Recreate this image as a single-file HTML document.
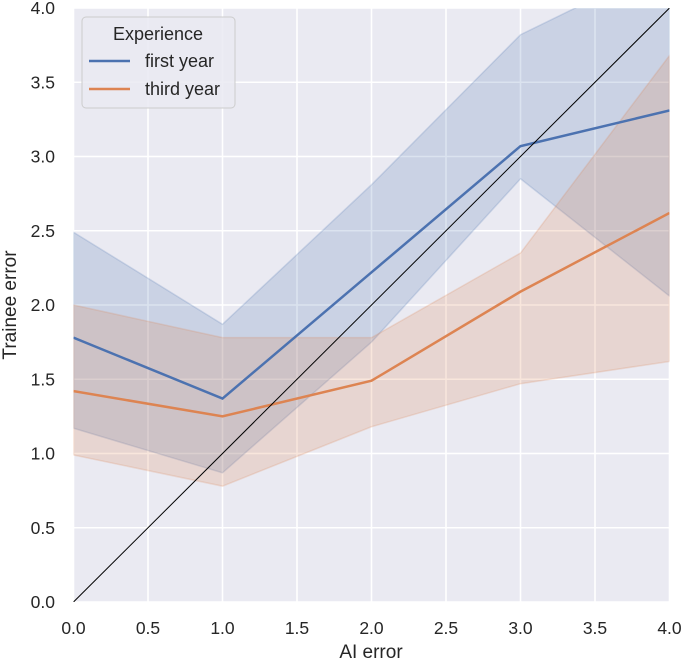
<!DOCTYPE html>
<html><head><meta charset="utf-8"><style>
body{margin:0;background:#fff;}
svg{display:block;font-family:"Liberation Sans",sans-serif;}
</style></head><body>
<svg id="chart" width="685" height="662">
<defs><clipPath id="clip"><rect x="73.5" y="8" width="596" height="594"/></clipPath></defs>
<rect x="73.5" y="8" width="596" height="594" fill="#eaeaf2"/>
<g id="grid"></g>
<g id="marks" clip-path="url(#clip)"></g>
<g id="ticks"></g>
<text x="371" y="658" text-anchor="middle" font-size="19" fill="#262626">AI error</text>
<text transform="translate(16,305) rotate(-90)" text-anchor="middle" font-size="19" fill="#262626">Trainee error</text>
<g>
<rect x="82" y="17" width="153" height="91" rx="4" fill="#eaeaf2" fill-opacity="0.85" stroke="#cccccc"/>
<text x="158" y="40" text-anchor="middle" font-size="18" fill="#262626">Experience</text>
<line x1="89" y1="61" x2="130" y2="61" stroke="#4c72b0" stroke-width="2.5"/>
<text x="145" y="67" font-size="18" fill="#262626">first year</text>
<line x1="89" y1="89" x2="130" y2="89" stroke="#dd8452" stroke-width="2.5"/>
<text x="145" y="95" font-size="18" fill="#262626">third year</text>
</g>
</svg>
<script>
const xs = [0, 1, 2, 3, 4];
const firstMean = [1.78, 1.37, 2.22, 3.07, 3.31];
const firstLo = [1.17, 0.87, 1.75, 2.85, 2.06];
const firstHi = [2.49, 1.87, 2.81, 3.82, 4.31];
const thirdMean = [1.42, 1.25, 1.49, 2.09, 2.62];
const thirdLo = [0.99, 0.78, 1.18, 1.47, 1.62];
const thirdHi = [2.00, 1.78, 1.78, 2.35, 3.68];
const tickVals = [0, 0.5, 1, 1.5, 2, 2.5, 3, 3.5, 4];
const tickLabels = ["0.0","0.5","1.0","1.5","2.0","2.5","3.0","3.5","4.0"];

const X = v => 73.5 + v * 149;
const Y = v => 602 - v * 148.5;
const NS = "http://www.w3.org/2000/svg";
const grid = document.getElementById('grid');
const marks = document.getElementById('marks');
const ticks = document.getElementById('ticks');
function mk(tag, attrs, parent){const e=document.createElementNS(NS,tag);for(const k in attrs)e.setAttribute(k,attrs[k]);parent.appendChild(e);return e;}

tickVals.forEach((t,i)=>{
  const gx = mk('line',{x1:X(t),x2:X(t),y1:8,y2:602,stroke:'#fff','stroke-width':1.6},grid);
  
  
  const gy = mk('line',{x1:73.5,x2:669.5,y1:Y(t),y2:Y(t),stroke:'#fff','stroke-width':1.6},grid);
  
  
  const tx = mk('text',{x:X(t),y:634,'text-anchor':'middle','font-size':17.5,fill:'#262626'},ticks);
  tx.textContent = tickLabels[i];
  
  
  const ty = mk('text',{x:55,y:Y(t)+6,'text-anchor':'end','font-size':17.5,fill:'#262626'},ticks);
  ty.textContent = tickLabels[i];
  
  
});

function band(lo, hi, color, name){
  let d = xs.map((x,i)=>(i?'L':'M')+X(x)+','+Y(hi[i])).join(' ');
  d += ' ' + xs.slice().reverse().map((x,j)=>{const i=xs.length-1-j;return 'L'+X(x)+','+Y(lo[i]);}).join(' ') + ' Z';
  const p = mk('path',{d:d,fill:color,'fill-opacity':0.2,stroke:color,'stroke-opacity':0.2,'stroke-width':1.5},marks);
  
  
}
function line(vals, color, name){
  const d = xs.map((x,i)=>(i?'L':'M')+X(x)+','+Y(vals[i])).join(' ');
  const p = mk('path',{d:d,fill:'none',stroke:color,'stroke-width':2.5},marks);
  
  
}
band(firstLo, firstHi, '#4c72b0', 'first-year-ci-band');
band(thirdLo, thirdHi, '#dd8452', 'third-year-ci-band');
line(firstMean, '#4c72b0', 'first-year-line');
line(thirdMean, '#dd8452', 'third-year-line');
const diag = mk('line',{x1:X(0),y1:Y(0),x2:X(4),y2:Y(4),stroke:'#000','stroke-width':1},marks);


</script>
</body></html>
